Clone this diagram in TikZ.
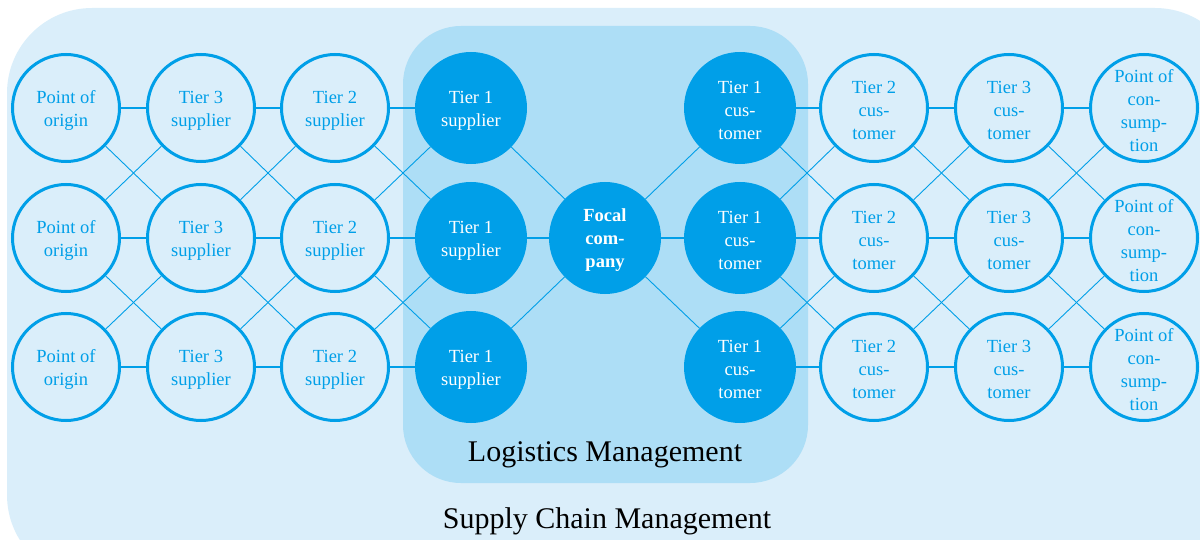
\documentclass[tikz,border=0pt]{standalone}
\usepackage{fontspec}
\setmainfont{Liberation Serif}
\definecolor{scblue}{HTML}{009FE8}
\definecolor{scmid}{HTML}{ADDEF6}
\definecolor{scpale}{HTML}{DAEEFA}
\begin{document}
\begin{tikzpicture}[x=1pt,y=-1pt,
  nodetext/.style={align=center,inner sep=0pt,font=\fontsize{18.5}{23}\selectfont,yshift=-2.5pt},
  ring/.style={circle,draw=scblue,line width=3pt,minimum size=107pt,inner sep=0pt,
    label={[nodetext,text=scblue]center:#1}},
  disc/.style={circle,draw=scblue,fill=scblue,line width=3pt,minimum size=109pt,inner sep=0pt,
    label={[nodetext,text=white]center:#1}},
  hline/.style={draw=scblue,line width=1.5pt},
  dline/.style={draw=scblue,line width=0.9pt},
  caption/.style={font=\fontsize{30}{34}\selectfont,text=black}]
\useasboundingbox (0,0) rectangle (1200,540);
% management areas
\fill[scpale,rounded corners=85pt] (7,8) rectangle (1240,580);
\fill[scmid,rounded corners=58pt] (403,26) rectangle (808,483);
\node[caption] (lm) at (605,455) {Logistics Management};
\node[caption] (scm) at (607,521) {Supply Chain Management};
% network nodes
\foreach \r/\y in {1/108,2/238,3/367}{
  \node[ring={Point of\\origin}] (po\r) at (66,\y) {};
  \node[ring={Tier 3\\supplier}] (tts\r) at (201,\y) {};
  \node[ring={Tier 2\\supplier}] (tws\r) at (335,\y) {};
  \node[disc={Tier 1\\supplier}] (tos\r) at (471,\y) {};
  \node[disc={Tier 1\\cus-\\tomer}] (toc\r) at (740,\y) {};
  \node[ring={Tier 2\\cus-\\tomer}] (twc\r) at (874,\y) {};
  \node[ring={Tier 3\\cus-\\tomer}] (thc\r) at (1009,\y) {};
  \node[ring={Point of\\con-\\sump-\\tion}] (pc\r) at (1144,\y) {};
}
\node[disc={\bfseries Focal\\\bfseries com-\\\bfseries pany}] (fc) at (605,238) {};
% links between neighbouring tiers
\foreach \a/\b in {po/tts,tts/tws,tws/tos,toc/twc,twc/thc,thc/pc}{
  \foreach \r in {1,2,3}{\draw[hline] (\a\r) -- (\b\r);}
  \draw[dline] (\a1) -- (\b2);
  \draw[dline] (\a2) -- (\b1);
  \draw[dline] (\a2) -- (\b3);
  \draw[dline] (\a3) -- (\b2);
}
% links to the focal company
\draw[hline] (tos2) -- (fc);
\draw[hline] (fc) -- (toc2);
\draw[dline] (tos1) -- (fc);
\draw[dline] (tos3) -- (fc);
\draw[dline] (fc) -- (toc1);
\draw[dline] (fc) -- (toc3);
\end{tikzpicture}
\end{document}
